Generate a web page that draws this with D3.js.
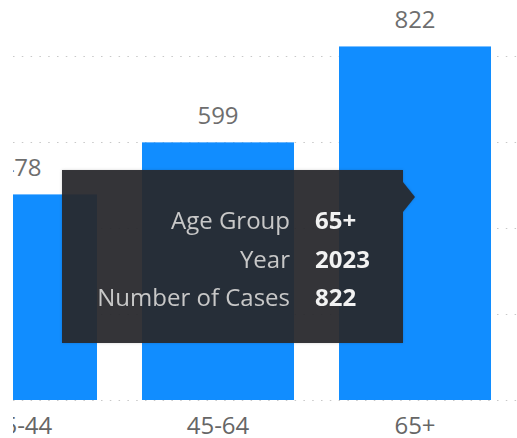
<!DOCTYPE html>
<html>
<head>
<meta charset="utf-8">
<script src="https://cdn.jsdelivr.net/npm/d3@7"></script>
<style>
  html, body { margin: 0; padding: 0; background: #ffffff; }
  svg { display: block; font-family: "Open Sans", "Noto Sans", sans-serif; }
</style>
</head>
<body>
<svg id="chart" width="517" height="438"></svg>
<script>
// ---- data ----
const ageGroups = ["25-44", "45-64", "65+"];
const cases = [478, 599, 822];
const gridTicks = [0, 200, 400, 600, 800];
const tooltipLabels = ["Age Group", "Year", "Number of Cases"];
const tooltipValues = ["65+", "2023", "822"];

// ---- layout ----
const W = 517, H = 438;
const baseY = 400, clipLeft = 13;
const svg = d3.select("#chart");

const x = d3.scaleBand()
  .domain(ageGroups)
  .range([-77.5, 513.5])
  .paddingInner(0.2284)
  .paddingOuter(0.1142);

const y = d3.scaleLinear().domain([0, 930]).range([baseY, 0]);

svg.append("defs").append("clipPath").attr("id", "plotClip")
  .append("rect").attr("x", clipLeft).attr("y", 0).attr("width", W - clipLeft).attr("height", H);

const shadow = svg.select("defs").append("filter").attr("id", "tipShadow")
  .attr("x", "-10%").attr("y", "-10%").attr("width", "120%").attr("height", "120%");
shadow.append("feDropShadow").attr("dx", 0).attr("dy", 0).attr("stdDeviation", 1.5)
  .attr("flood-color", "#000").attr("flood-opacity", 0.18);

const plot = svg.append("g").attr("clip-path", "url(#plotClip)");

// gridlines
plot.append("g").selectAll("line").data(gridTicks).join("line")
  .attr("x1", clipLeft).attr("x2", W)
  .attr("y1", d => Math.round(y(d)) + 0.5).attr("y2", d => Math.round(y(d)) + 0.5)
  .attr("stroke", "#c8c8c8").attr("stroke-width", 1.2)
  .attr("stroke-dasharray", "1.5,7.3");

// bars
plot.append("g").selectAll("rect").data(cases).join("rect")
  .attr("x", (d, i) => x(ageGroups[i]))
  .attr("y", d => y(d))
  .attr("width", x.bandwidth())
  .attr("height", d => baseY - y(d))
  .attr("fill", "#118DFF");

// data labels
plot.append("g").selectAll("text").data(cases).join("text")
  .attr("x", (d, i) => x(ageGroups[i]) + x.bandwidth() / 2)
  .attr("y", d => y(d) - 18.5)
  .attr("text-anchor", "middle")
  .attr("font-size", 24)
  .attr("fill", "#6e6e6e")
  .text(d => d3.format("d")(d));

// x axis labels
const xAxisG = svg.append("g").attr("clip-path", "url(#plotClip)")
  .attr("transform", `translate(0,${baseY})`)
  .call(d3.axisBottom(x).tickSize(0).tickPadding(0));
xAxisG.select(".domain").remove();
xAxisG.selectAll("text")
  .attr("dy", null).attr("y", 33.5)
  .attr("font-family", "\"Open Sans\", sans-serif")
  .attr("font-size", 24).attr("fill", "#666666");

// tooltip
const tip = svg.append("g").attr("filter", "url(#tipShadow)");
const tx0 = 62, ty0 = 170, tx1 = 403, ty1 = 343;
tip.append("path")
  .attr("d", `M${tx0},${ty0}H${tx1}V182L415,197L${tx1},212V${ty1}H${tx0}Z`)
  .attr("fill", "#292a2d").attr("fill-opacity", 0.93);

const rowY = [229, 267.5, 306];
tip.append("g").selectAll("text").data(tooltipLabels).join("text")
  .attr("x", 290).attr("y", (d, i) => rowY[i])
  .attr("text-anchor", "end")
  .attr("font-size", 24).attr("fill", "#c8c8c8")
  .text(d => d);
tip.append("g").selectAll("text").data(tooltipValues).join("text")
  .attr("x", 315).attr("y", (d, i) => rowY[i])
  .attr("text-anchor", "start")
  .attr("font-size", 24).attr("font-weight", 700).attr("fill", "#f2f2f2")
  .text(d => d);
</script>
</body>
</html>
